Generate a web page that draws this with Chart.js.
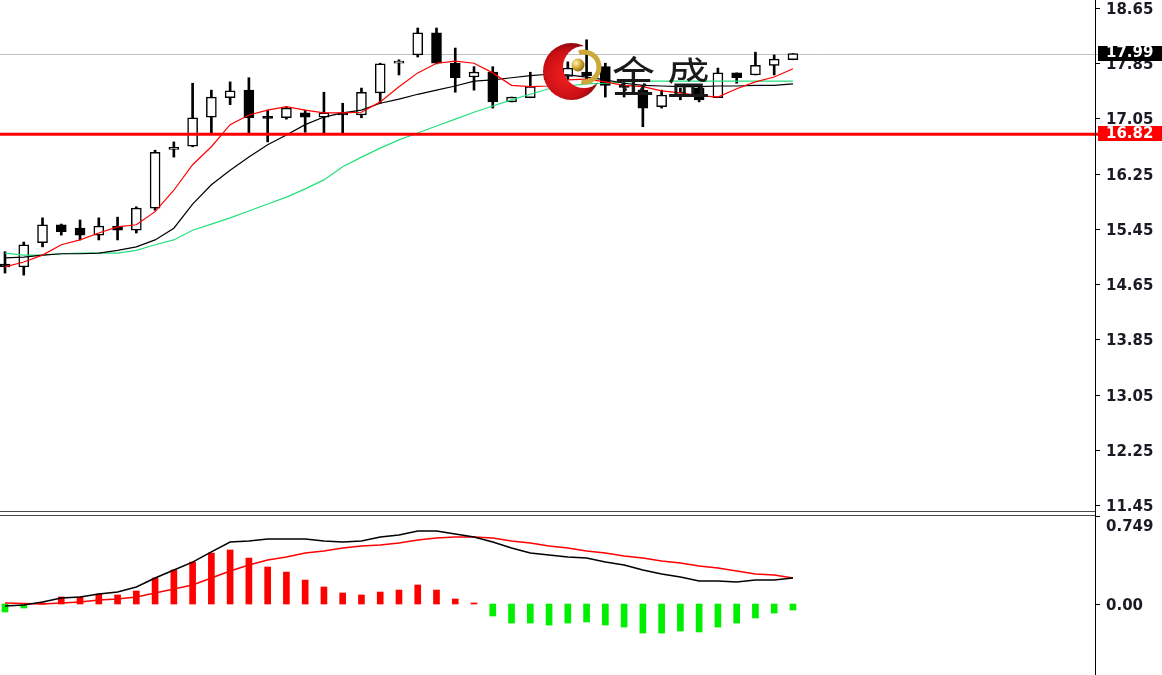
<!DOCTYPE html>
<html><head><meta charset="utf-8">
<script src="https://cdn.jsdelivr.net/npm/chart.js@4.4.0/dist/chart.umd.min.js"></script>
<style>
html,body{margin:0;padding:0;background:#fff;}
#wrap{position:relative;width:1162px;height:675px;overflow:hidden;background:#fff;}
#main{position:absolute;left:0;top:0;}
#macd{position:absolute;left:0;top:516px;}
.sep{position:absolute;left:0;width:1096px;height:1px;background:#4a4a4a;}
#axisline{position:absolute;left:1095px;top:0;width:1px;height:675px;background:#000;}
#logo{position:absolute;left:0;top:0;pointer-events:none;}
.cjk{position:absolute;font-family:"Noto Sans CJK SC";font-size:43px;line-height:1;color:#1a1a1a;}
</style></head>
<body><div id="wrap">
<canvas id="main" width="1162" height="511"></canvas>
<div class="sep" style="top:511px"></div>
<div class="sep" style="top:515px"></div>
<canvas id="macd" width="1162" height="159"></canvas>
<div id="axisline"></div>
<svg id="logo" width="1162" height="675">
<defs>
<radialGradient id="rg" cx="0.42" cy="0.55" r="0.62"><stop offset="0" stop-color="#f52020"/><stop offset="0.65" stop-color="#cc1016"/><stop offset="1" stop-color="#78060a"/></radialGradient>
<radialGradient id="gold" cx="0.35" cy="0.35" r="0.7"><stop offset="0" stop-color="#fff4b8"/><stop offset="0.5" stop-color="#d8b23a"/><stop offset="1" stop-color="#8a6a10"/></radialGradient>
<mask id="cut"><rect x="520" y="20" width="120" height="110" fill="#fff"/><circle cx="584" cy="67" r="21" fill="#000"/></mask>
</defs>
<circle cx="571.5" cy="71.5" r="28.5" fill="url(#rg)" mask="url(#cut)"/>
<path d="M 578.9 52.9 A 15 15 0 1 1 581.4 81.8" stroke="#cda93a" stroke-width="5" fill="none"/>
<circle cx="578" cy="65" r="6.5" fill="url(#gold)"/>
</svg>
<span class="cjk" style="left:612px;top:53px">金</span>
<span class="cjk" style="left:667px;top:54px">盛</span>
</div>
<script>
// ---- data ----
const priceTicks = [18.65,17.85,17.05,16.25,15.45,14.65,13.85,13.05,12.25,11.45];
const macdTicks = [0.749, 0.00];
const macdTickLabels = ['0.749','0.00'];
const lastPrice = 17.99;
const levelPrice = 16.82;

const opens  = [14.94,14.90,15.25,15.51,15.46,15.36,15.49,15.43,15.75,16.60,16.65,17.07,17.35,17.46,17.08,17.06,17.13,17.07,17.13,17.10,17.42,17.85,17.97,18.29,17.85,17.65,17.72,17.29,17.35,17.61,17.66,17.72,17.80,17.53,17.46,17.22,17.40,17.49,17.35,17.71,17.68,17.82,17.90];
const highs  = [15.12,15.26,15.61,15.52,15.58,15.61,15.62,15.77,16.59,16.71,17.56,17.46,17.58,17.64,17.17,17.22,17.17,17.43,17.27,17.49,17.85,17.90,18.36,18.36,18.07,17.80,17.80,17.36,17.72,17.75,17.87,18.19,17.85,17.61,17.51,17.46,17.49,17.54,17.78,17.71,18.01,17.97,17.99];
const lows   = [14.81,14.78,15.19,15.36,15.29,15.29,15.29,15.39,15.72,16.49,16.64,16.84,17.25,16.84,16.71,17.04,16.85,16.84,16.84,17.06,17.27,17.68,17.94,17.84,17.43,17.46,17.20,17.29,17.35,17.58,17.61,17.58,17.36,17.36,16.93,17.20,17.32,17.29,17.35,17.56,17.68,17.68,17.90];
const closes = [14.90,15.22,15.51,15.41,15.36,15.49,15.43,15.75,16.56,16.63,17.06,17.36,17.45,17.06,17.05,17.20,17.07,17.13,17.10,17.43,17.84,17.88,18.29,17.85,17.64,17.72,17.29,17.36,17.51,17.71,17.78,17.67,17.53,17.50,17.20,17.39,17.43,17.32,17.71,17.64,17.82,17.91,17.99];

const maFast = [14.90,14.97,15.07,15.22,15.29,15.39,15.48,15.51,15.70,16.01,16.38,16.64,16.96,17.10,17.17,17.22,17.17,17.13,17.13,17.14,17.29,17.51,17.71,17.85,17.88,17.85,17.71,17.53,17.51,17.52,17.61,17.62,17.58,17.53,17.51,17.45,17.42,17.38,17.36,17.48,17.58,17.65,17.77];
const maMid  = [15.03,15.04,15.07,15.09,15.09,15.10,15.14,15.19,15.29,15.46,15.81,16.09,16.30,16.49,16.67,16.81,16.96,17.07,17.13,17.17,17.27,17.33,17.40,17.46,17.52,17.59,17.61,17.64,17.67,17.69,17.68,17.65,17.61,17.56,17.53,17.52,17.51,17.51,17.52,17.52,17.53,17.53,17.55];
const maSlow = [15.10,15.07,15.07,15.09,15.10,15.10,15.10,15.14,15.22,15.29,15.43,15.52,15.61,15.71,15.81,15.91,16.03,16.16,16.35,16.49,16.62,16.74,16.84,16.94,17.04,17.14,17.23,17.32,17.40,17.48,17.52,17.55,17.56,17.58,17.59,17.59,17.59,17.59,17.59,17.59,17.59,17.59,17.59];

const macdHist   = [-0.068,-0.034,0.009,0.060,0.060,0.085,0.077,0.111,0.221,0.289,0.357,0.434,0.460,0.391,0.315,0.272,0.204,0.145,0.094,0.077,0.102,0.119,0.162,0.119,0.043,0.009,-0.102,-0.162,-0.162,-0.179,-0.162,-0.153,-0.179,-0.196,-0.247,-0.247,-0.230,-0.238,-0.196,-0.162,-0.119,-0.077,-0.051];
const macdMain   = [-0.017,-0.009,0.017,0.051,0.060,0.085,0.102,0.145,0.221,0.289,0.357,0.443,0.528,0.536,0.553,0.553,0.553,0.536,0.528,0.536,0.570,0.587,0.621,0.621,0.596,0.570,0.528,0.477,0.434,0.417,0.400,0.391,0.357,0.332,0.289,0.255,0.230,0.196,0.196,0.187,0.204,0.204,0.221];
const macdSignal = [0.009,0.005,0.000,0.009,0.017,0.034,0.043,0.060,0.094,0.128,0.162,0.221,0.281,0.332,0.374,0.400,0.434,0.451,0.477,0.494,0.502,0.519,0.545,0.562,0.570,0.570,0.562,0.536,0.519,0.494,0.477,0.451,0.434,0.409,0.391,0.366,0.349,0.323,0.306,0.281,0.255,0.247,0.221];

// ---- layout constants ----
const X_MIN = -0.2665, X_MAX = 58.1;
const PRICE_MIN = 11.363, PRICE_MAX = 18.766;
const MACD_MIN = -0.604, MACD_MAX = 0.749;
const AXIS_W = 67;
const FONT = 'bold 15px "DejaVu Sans"';

const idx = closes.map((_, i) => i);
const xy = arr => arr.map((v, i) => ({x: i, y: v}));

function axisPlugin(values, labels, clampTop, extra) {
  return {
    id: 'axisLabels',
    beforeDatasetsDraw(chart) {
      if (extra && extra.before) extra.before(chart);
    },
    afterDatasetsDraw(chart) {
      if (extra && extra.after) extra.after(chart);
    },
    afterDraw(chart) {
      const {ctx, chartArea: a, scales: {y}} = chart;
      ctx.save();
      ctx.strokeStyle = '#000'; ctx.lineWidth = 1;
      ctx.font = FONT; ctx.fillStyle = '#1a1a24';
      ctx.textBaseline = 'middle'; ctx.textAlign = 'left';
      values.forEach((v, i) => {
        const py = Math.round(y.getPixelForValue(v)) + 0.5;
        ctx.beginPath(); ctx.moveTo(a.right, py); ctx.lineTo(a.right + 5, py); ctx.stroke();
        let ly = py + 2;
        if (clampTop) ly = Math.max(ly, a.top + 11);
        ctx.fillText(labels[i], a.right + 11, ly);
      });
      if (extra && extra.boxes) extra.boxes(chart);
      ctx.restore();
    }
  };
}

function drawBox(chart, value, bg) {
  const {ctx, chartArea: a, scales: {y}} = chart;
  const py = y.getPixelForValue(value);
  ctx.fillStyle = bg;
  ctx.fillRect(a.right + 3, Math.round(py - 8), 1162 - a.right - 3, 15);
  ctx.fillStyle = '#fff';
  ctx.font = FONT; ctx.textBaseline = 'middle'; ctx.textAlign = 'left';
  ctx.fillText(value.toFixed(2), a.right + 11, py);
}

const mainExtra = {
  before(chart) {
    const {ctx, chartArea: a, scales: {y}} = chart;
    const py = Math.round(y.getPixelForValue(lastPrice)) + 0.5;
    ctx.save(); ctx.strokeStyle = '#c0c0c0'; ctx.lineWidth = 1;
    ctx.beginPath(); ctx.moveTo(0, py); ctx.lineTo(a.right + 3, py); ctx.stroke(); ctx.restore();
  },
  after(chart) {
    const {ctx, chartArea: a, scales: {y}} = chart;
    const py = y.getPixelForValue(levelPrice);
    ctx.save(); ctx.strokeStyle = '#ff0000'; ctx.lineWidth = 3;
    ctx.beginPath(); ctx.moveTo(0, py); ctx.lineTo(a.right + 3, py); ctx.stroke(); ctx.restore();
  },
  boxes(chart) {
    drawBox(chart, lastPrice, '#000');
    drawBox(chart, levelPrice, '#ff0000');
  }
};

const lineDs = (arr, color, w) => ({type: 'line', data: xy(arr), borderColor: color, borderWidth: w,
  pointRadius: 0, fill: false, tension: 0, order: 0});

new Chart(document.getElementById('main'), {
  type: 'bar',
  data: { datasets: [
    lineDs(maFast, '#ff0000', 1.2),
    lineDs(maMid, '#000000', 1.2),
    lineDs(maSlow, '#22e07c', 1.2),
    {type: 'bar', data: idx.map(i => ({x: i, y: [opens[i], closes[i]]})),
      backgroundColor: idx.map(i => closes[i] >= opens[i] ? '#ffffff' : '#000000'),
      borderColor: '#000', borderWidth: 1.5, borderSkipped: false, barThickness: 10, grouped: false, order: 1},
    {type: 'bar', data: idx.map(i => ({x: i, y: [lows[i], highs[i]]})),
      backgroundColor: '#000', borderWidth: 0, barThickness: 2, grouped: false, order: 2}
  ]},
  options: {
    responsive: false, animation: false, devicePixelRatio: 1,
    layout: {padding: {left: 0, right: AXIS_W, top: 0, bottom: 0}},
    plugins: {legend: {display: false}, tooltip: {enabled: false}},
    scales: {
      x: {type: 'linear', min: X_MIN, max: X_MAX, display: false, offset: false, grid: {offset: false}},
      y: {min: PRICE_MIN, max: PRICE_MAX, display: false}
    }
  },
  plugins: [axisPlugin(priceTicks, priceTicks.map(v => v.toFixed(2)), false, mainExtra)]
});

new Chart(document.getElementById('macd'), {
  type: 'bar',
  data: { datasets: [
    lineDs(macdMain, '#000000', 1.5),
    lineDs(macdSignal, '#ff0000', 1.5),
    {type: 'bar', data: xy(macdHist),
      backgroundColor: macdHist.map(v => v >= 0 ? '#ff0000' : '#00ee00'),
      borderWidth: 0, barThickness: 6, grouped: false, order: 1}
  ]},
  options: {
    responsive: false, animation: false, devicePixelRatio: 1,
    layout: {padding: {left: 0, right: AXIS_W, top: 0, bottom: 0}},
    plugins: {legend: {display: false}, tooltip: {enabled: false}},
    scales: {
      x: {type: 'linear', min: X_MIN, max: X_MAX, display: false, offset: false, grid: {offset: false}},
      y: {min: MACD_MIN, max: MACD_MAX, display: false}
    }
  },
  plugins: [axisPlugin(macdTicks, macdTickLabels, true, null)]
});
</script>
</body></html>
